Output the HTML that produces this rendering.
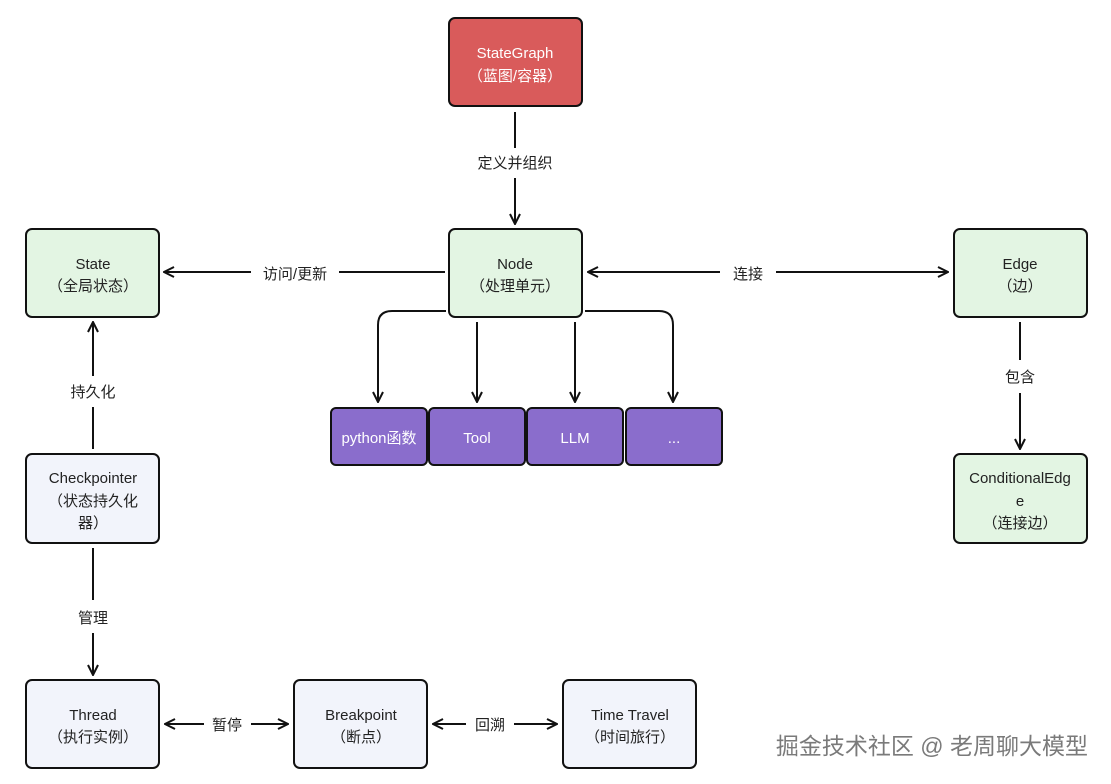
<!DOCTYPE html>
<html><head><meta charset="utf-8"><style>
html,body{margin:0;padding:0;background:#fff;}
svg{display:block;}
text{font-family:"Liberation Sans","Noto Sans CJK SC",sans-serif;font-size:15px;fill:#222;text-anchor:middle;}
.w{fill:#fff;}
</style></head><body>
<svg width="1111" height="784" viewBox="0 0 1111 784" xmlns="http://www.w3.org/2000/svg">
<defs>
<marker id="a" viewBox="0 0 12 12" refX="11" refY="6" markerWidth="12" markerHeight="12" markerUnits="userSpaceOnUse" orient="auto-start-reverse">
<path d="M1,1 L11,6 L1,11" fill="none" stroke="#111" stroke-width="2"/>
</marker>
</defs>
<g stroke="#111" stroke-width="2">
<rect x="449" y="18" width="133" height="88" rx="6" fill="#d95b5b"/>
<rect x="449" y="229" width="133" height="88" rx="6" fill="#e3f5e3"/>
<rect x="26" y="229" width="133" height="88" rx="6" fill="#e3f5e3"/>
<rect x="954" y="229" width="133" height="88" rx="6" fill="#e3f5e3"/>
<rect x="954" y="454" width="133" height="89" rx="6" fill="#e3f5e3"/>
<rect x="26" y="454" width="133" height="89" rx="6" fill="#f2f4fb"/>
<rect x="26" y="680" width="133" height="88" rx="6" fill="#f2f4fb"/>
<rect x="294" y="680" width="133" height="88" rx="6" fill="#f2f4fb"/>
<rect x="563" y="680" width="133" height="88" rx="6" fill="#f2f4fb"/>
<rect x="331" y="408" width="96" height="57" rx="5" fill="#8a6dcc"/>
<rect x="429" y="408" width="96" height="57" rx="5" fill="#8a6dcc"/>
<rect x="527" y="408" width="96" height="57" rx="5" fill="#8a6dcc"/>
<rect x="626" y="408" width="96" height="57" rx="5" fill="#8a6dcc"/>
</g>
<g stroke="#111" stroke-width="2" fill="none">
<line x1="515" y1="112" x2="515" y2="148"/>
<line x1="515" y1="178" x2="515" y2="224" marker-end="url(#a)"/>
<line x1="445" y1="272" x2="339" y2="272"/>
<line x1="251" y1="272" x2="164" y2="272" marker-end="url(#a)"/>
<line x1="588" y1="272" x2="720" y2="272" marker-start="url(#a)"/>
<line x1="776" y1="272" x2="948" y2="272" marker-end="url(#a)"/>
<path d="M446,311 H392 Q378,311 378,325 V402" marker-end="url(#a)"/>
<line x1="477" y1="322" x2="477" y2="402" marker-end="url(#a)"/>
<line x1="575" y1="322" x2="575" y2="402" marker-end="url(#a)"/>
<path d="M585,311 H659 Q673,311 673,325 V402" marker-end="url(#a)"/>
<line x1="1020" y1="322" x2="1020" y2="360"/>
<line x1="1020" y1="393" x2="1020" y2="449" marker-end="url(#a)"/>
<line x1="93" y1="449" x2="93" y2="407"/>
<line x1="93" y1="376" x2="93" y2="322" marker-end="url(#a)"/>
<line x1="93" y1="548" x2="93" y2="600"/>
<line x1="93" y1="633" x2="93" y2="675" marker-end="url(#a)"/>
<line x1="165" y1="724" x2="204" y2="724" marker-start="url(#a)"/>
<line x1="251" y1="724" x2="288" y2="724" marker-end="url(#a)"/>
<line x1="433" y1="724" x2="466" y2="724" marker-start="url(#a)"/>
<line x1="514" y1="724" x2="557" y2="724" marker-end="url(#a)"/>
</g>
<text x="515" y="58" class="w">StateGraph</text>
<text x="515" y="81" class="w">（蓝图/容器）</text>
<text x="515" y="269">Node</text>
<text x="515" y="291">（处理单元）</text>
<text x="93" y="269">State</text>
<text x="93" y="291">（全局状态）</text>
<text x="1020" y="269">Edge</text>
<text x="1020" y="291">（边）</text>
<text x="1020" y="483">ConditionalEdg</text>
<text x="1020" y="506">e</text>
<text x="1020" y="528">（连接边）</text>
<text x="93" y="483">Checkpointer</text>
<text x="93" y="506">（状态持久化</text>
<text x="93" y="528">器）</text>
<text x="93" y="720">Thread</text>
<text x="93" y="742">（执行实例）</text>
<text x="361" y="720">Breakpoint</text>
<text x="361" y="742">（断点）</text>
<text x="630" y="720">Time Travel</text>
<text x="630" y="742">（时间旅行）</text>
<text x="379" y="443" class="w">python函数</text>
<text x="477" y="443" class="w">Tool</text>
<text x="575" y="443" class="w">LLM</text>
<text x="674" y="443" class="w">...</text>
<text x="515" y="168">定义并组织</text>
<text x="295" y="279">访问/更新</text>
<text x="748" y="279">连接</text>
<text x="1020" y="382">包含</text>
<text x="93" y="397">持久化</text>
<text x="93" y="623">管理</text>
<text x="227" y="730">暂停</text>
<text x="490" y="730">回溯</text>
<text x="1088" y="754" style="font-size:23px;fill:#7a7a7a;text-anchor:end;">掘金技术社区 @ 老周聊大模型</text>
</svg>
</body></html>
